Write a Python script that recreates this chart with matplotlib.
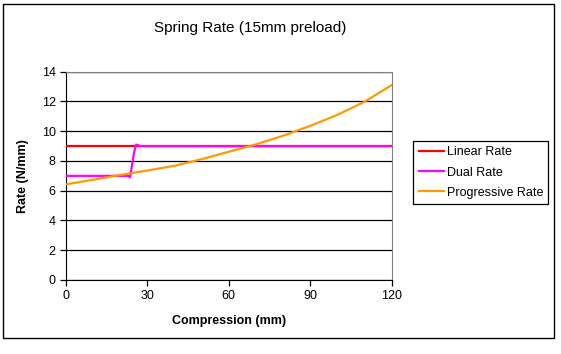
import matplotlib.pyplot as plt
from matplotlib.patches import Rectangle

plt.rcParams['font.family'] = ['Liberation Sans', 'DejaVu Sans']

# Spring rate data
linear_x = [0, 120]
linear_y = [9, 9]

dual_x = [0, 23, 23.6, 25.0, 25.8, 27.5, 120]
dual_y = [7.0, 7.0, 6.9, 8.5, 9.1, 9.0, 9.0]

prog_x = [0, 10, 20, 30, 40, 50, 60, 70, 80, 90, 100, 110, 120]
prog_y = [6.43, 6.74, 7.06, 7.36, 7.68, 8.12, 8.62, 9.12, 9.7, 10.36, 11.1, 11.98, 13.1]

x_ticks = [0, 30, 60, 90, 120]
y_ticks = [0, 2, 4, 6, 8, 10, 12, 14]

W, H = 561, 354
fig = plt.figure(figsize=(W / 100, H / 100), dpi=100)
fig.patches.append(Rectangle((3 / W, 1 - 338 / H), 551 / W, 334 / H,
                             transform=fig.transFigure, fill=False,
                             edgecolor='black', linewidth=1))

ax = fig.add_axes([66 / W, 1 - 280 / H, 325.7 / W, 208.3 / H])

ax.plot(linear_x, linear_y, color='#FF0000', lw=1.6, label='Linear Rate', zorder=3)
ax.plot(dual_x, dual_y, color='#FF00FF', lw=1.6, label='Dual Rate', zorder=3)
ax.plot(prog_x, prog_y, color='#FF9900', lw=1.6, label='Progressive Rate', zorder=3)

ax.set_xlim(0, 120)
ax.set_ylim(0, 14)
ax.set_xticks(x_ticks)
ax.set_yticks(y_ticks)
ax.yaxis.grid(True, color='black', linewidth=0.9)
ax.set_axisbelow(True)
ax.tick_params(direction='out', length=4, width=0.9, labelsize=9, colors='black')

for s in ['top', 'right']:
    ax.spines[s].set_color('#808080')
for s in ['left', 'bottom']:
    ax.spines[s].set_color('black')

ax.set_xlabel('Compression (mm)', fontsize=9, fontweight='bold', labelpad=9)
ax.set_ylabel('Rate (N/mm)', fontsize=9, fontweight='bold', labelpad=9)

fig.text(250 / W, 1 - 28 / H, 'Spring Rate (15mm preload)', fontsize=11,
         ha='center', va='center')

leg = ax.legend(loc='center left', bbox_to_anchor=(413 / W, 1 - 208 / H, 135 / W, 71 / H),
                bbox_transform=fig.transFigure, mode='expand', fontsize=9,
                frameon=True, fancybox=False, framealpha=1, borderaxespad=0,
                handlelength=2.0, handletextpad=0.3, labelspacing=0.65,
                borderpad=0.45)
leg.get_frame().set_edgecolor('black')
leg.get_frame().set_linewidth(0.9)

plt.savefig('out.png', dpi=100)
plt.close()
